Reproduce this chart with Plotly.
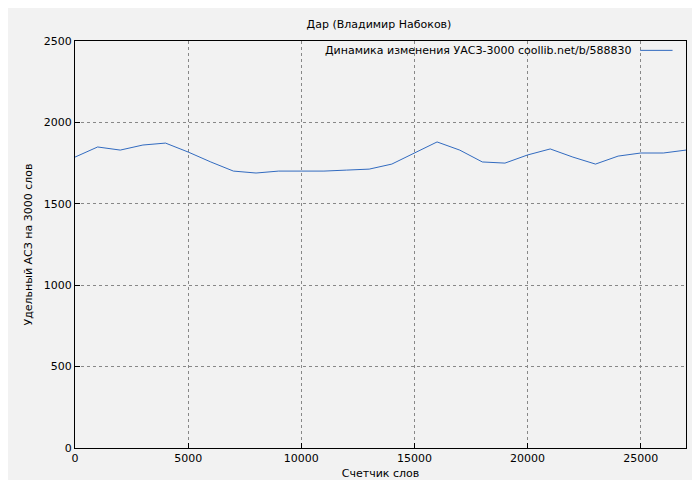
import plotly.graph_objects as go

# word counter positions and specific value per 3000 words
words = [0, 1000, 2000, 3000, 4000, 5000, 6000, 7000, 8000, 9000, 10000,
         11000, 12000, 13000, 14000, 15000, 16000, 17000, 18000, 19000,
         20000, 21000, 22000, 23000, 24000, 25000, 26000, 27000]
uasz = [1787, 1849, 1830, 1861, 1873, 1818, 1757, 1701, 1689, 1701, 1701,
        1701, 1707, 1713, 1744, 1812, 1880, 1830, 1757, 1750,
        1800, 1837, 1787, 1744, 1793, 1812, 1812, 1830]

legend_label = "Динамика изменения УАСЗ-3000 coollib.net/b/588830"

fig = go.Figure()
fig.add_trace(go.Scatter(x=words, y=uasz, mode="lines",
                         line=dict(color="#0047b3", width=0.8),
                         showlegend=False))

axis_common = dict(showline=True, linecolor="black", mirror=True,
                   showgrid=True, gridcolor="#888888", griddash="dot",
                   gridwidth=0.6, ticks="inside", ticklen=5, tickcolor="black",
                   zeroline=False, automargin=False,
                   tickfont=dict(size=11))

fig.update_layout(
    width=700, height=480,
    paper_bgcolor="#f2f2f2", plot_bgcolor="#f2f2f2",
    font=dict(family="DejaVu Sans", size=11, color="black"),
    margin=dict(l=67, r=22, t=33, b=40),
    title=dict(text="Дар (Владимир Набоков)", x=0.53, y=0.975,
               xanchor="center", font=dict(size=11)),
    xaxis=dict(range=[0, 27000], dtick=5000,
               title=dict(text="Счетчик слов", standoff=5, font=dict(size=11)),
               **axis_common),
    yaxis=dict(range=[0, 2500], dtick=500,
               title=dict(text="Удельный АСЗ на 3000 слов", standoff=8, font=dict(size=11)),
               **axis_common),
)
fig.update_xaxes(tickformat="d")
fig.add_annotation(text=legend_label, xref="paper", yref="paper",
                   x=0.915, y=0.977, xanchor="right", yanchor="middle",
                   showarrow=False, font=dict(size=11))
fig.add_shape(type="line", xref="paper", yref="paper",
              x0=0.925, x1=0.978, y0=0.977, y1=0.977,
              line=dict(color="#0047b3", width=0.8))

fig.write_html("out.html")
